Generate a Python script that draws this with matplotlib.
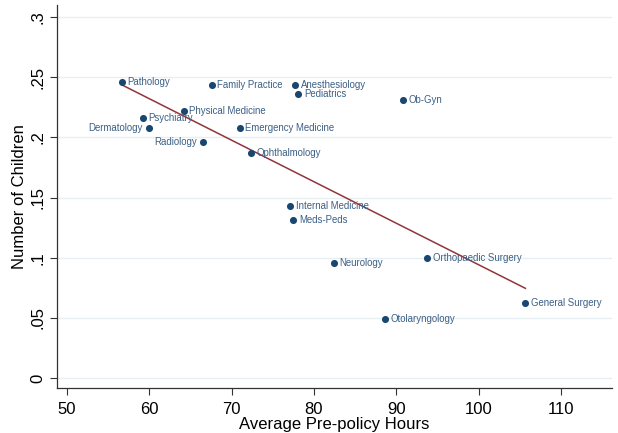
import matplotlib
matplotlib.use('Agg')
import matplotlib.pyplot as plt
import numpy as np

plt.rcParams['font.family'] = ['Liberation Sans', 'DejaVu Sans']

specialties = ['Pathology', 'Family Practice', 'Anesthesiology', 'Pediatrics', 'Ob-Gyn',
               'Physical Medicine', 'Psychiatry', 'Dermatology', 'Emergency Medicine',
               'Radiology', 'Ophthalmology', 'Internal Medicine', 'Meds-Peds', 'Neurology',
               'Orthopaedic Surgery', 'General Surgery', 'Otolaryngology']
hours = np.array([56.7, 67.6, 77.7, 78.1, 90.8, 64.2, 59.2, 59.9, 71.0, 66.5, 72.4,
                  77.1, 77.5, 82.4, 93.8, 105.7, 88.6])
children = np.array([0.246, 0.244, 0.244, 0.236, 0.231, 0.222, 0.216, 0.208, 0.208, 0.196,
                     0.187, 0.143, 0.131, 0.096, 0.100, 0.062, 0.049])
left_labels = ['Dermatology', 'Radiology']

navy = '#1a476f'

fig = plt.figure(figsize=(6.18, 4.33), dpi=100)
ax = fig.add_axes([0.092, 0.104, 0.898, 0.884])

ax.scatter(hours, children, s=26, color=navy, zorder=3, linewidths=0)
for name, x, y in zip(specialties, hours, children):
    if name in left_labels:
        ax.annotate(name, (x, y), xytext=(-4, 0), textcoords='offset points',
                    ha='right', va='center', fontsize=6.9, color='#3b5f85')
    else:
        ax.annotate(name, (x, y), xytext=(4, 0), textcoords='offset points',
                    ha='left', va='center', fontsize=6.9, color='#3b5f85')

# linear fit
b, a = np.polyfit(hours, children, 1)
xs = np.array([hours.min(), hours.max()])
ax.plot(xs, a + b * xs, color='#90353b', linewidth=1.1, zorder=2)

ax.set_xlim(48.76, 116.2)
ax.set_ylim(-0.0083, 0.31)
ax.set_xticks([50, 60, 70, 80, 90, 100, 110])
ax.set_yticks([0, 0.05, 0.1, 0.15, 0.2, 0.25, 0.3])
ax.set_yticklabels(['0', '.05', '.1', '.15', '.2', '.25', '.3'], rotation=90, va='center')
ax.tick_params(labelsize=12, length=5, width=0.8, color='#333333')
ax.tick_params(axis='x', pad=5)
ax.grid(axis='y', color='#e6eff1', linewidth=1.0)
ax.set_axisbelow(True)
for side in ['top', 'right']:
    ax.spines[side].set_visible(False)
for side in ['left', 'bottom']:
    ax.spines[side].set_color('#333333')
    ax.spines[side].set_linewidth(0.9)

ax.set_xlabel('Average Pre-policy Hours', fontsize=12, labelpad=0)
ax.set_ylabel('Number of Children', fontsize=12, labelpad=2)

fig.savefig('out.png', dpi=100)
